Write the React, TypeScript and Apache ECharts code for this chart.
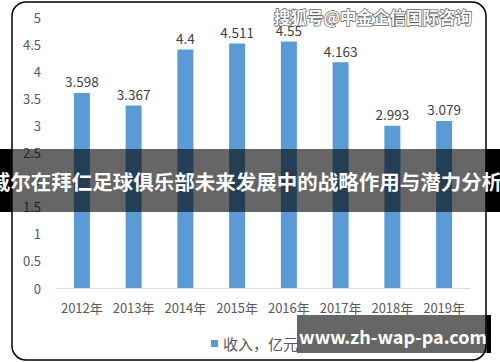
import React, { useEffect, useRef } from "react";
import * as echarts from "echarts";

const categories = ["2012年", "2013年", "2014年", "2015年", "2016年", "2017年", "2018年", "2019年"];
const revenue = [3.598, 3.367, 4.4, 4.511, 4.55, 4.163, 2.993, 3.079];
const seriesName = "收入，亿元";
const bannerTitle = "戚尔在拜仁足球俱乐部未来发展中的战略作用与潜力分析";
const topMark = "搜狐号@中金企信国际咨询";
const siteMark = "www.zh-wap-pa.com";

const FONT = '"Noto Sans CJK SC", "Noto Sans", sans-serif';

export default function App() {
  const ref = useRef<HTMLDivElement>(null);
  useEffect(() => {
    if (!ref.current) return;
    const chart = echarts.init(ref.current, undefined, { renderer: "svg" });
    chart.setOption({
      animation: false,
      backgroundColor: "#ffffff",
      textStyle: { fontFamily: FONT },
      grid: { left: 56, right: 30, top: 17, bottom: 74 },
      legend: {
        left: 206,
        top: 331,
        icon: "rect",
        itemWidth: 7,
        itemHeight: 7,
        itemGap: 6,
        textStyle: { fontSize: 15, color: "#595959", fontFamily: FONT },
        data: [seriesName],
      },
      xAxis: {
        type: "category",
        data: categories,
        axisLine: { lineStyle: { color: "#d9d9d9", width: 1 } },
        axisTick: { show: false },
        axisLabel: { color: "#595959", fontSize: 13, margin: 13, interval: 0, fontFamily: FONT },
      },
      yAxis: {
        type: "value",
        min: 0,
        max: 5,
        interval: 0.5,
        axisLine: { show: false },
        axisTick: { show: false },
        splitLine: { show: false },
        axisLabel: { color: "#595959", fontSize: 13, margin: 15, fontFamily: FONT },
      },
      series: [
        {
          name: seriesName,
          type: "bar",
          data: revenue,
          barWidth: 16,
          itemStyle: { color: "#5b9bd5" },
          label: {
            show: true,
            position: "top",
            distance: 5,
            color: "#404040",
            fontSize: 13.5,
            fontFamily: FONT,
          },
        },
      ],
      graphic: [
        {
          type: "rect",
          z: 90,
          shape: { x: 12, y: 2, width: 474, height: 358, r: 14 },
          style: { fill: "none", stroke: "#000", lineWidth: 1.5 },
        },
        {
          type: "text",
          z: 90,
          style: {
            text: topMark,
            x: 373,
            y: 17,
            textAlign: "center",
            textVerticalAlign: "middle",
            font: `bold 16.5px ${FONT}`,
            fill: "#ffffff",
            stroke: "#666666",
            lineWidth: 1.5,
          },
        },
        {
          type: "rect",
          z: 100,
          shape: { x: 0, y: 149, width: 500, height: 63 },
          style: { fill: "rgba(0,0,0,0.6)" },
        },
        {
          type: "rect",
          z: 101,
          shape: { x: 0, y: 149, width: 12, height: 63 },
          style: { fill: "#000" },
        },
        {
          type: "rect",
          z: 101,
          shape: { x: 486, y: 149, width: 14, height: 63 },
          style: { fill: "#000" },
        },
        {
          type: "text",
          z: 102,
          style: {
            text: bannerTitle,
            x: 246,
            y: 181,
            textAlign: "center",
            textVerticalAlign: "middle",
            font: `bold 20.5px ${FONT}`,
            fill: "#ffffff",
          },
        },
        {
          type: "rect",
          z: 100,
          shape: { x: 297, y: 315, width: 190, height: 38 },
          style: { fill: "rgba(0,0,0,0.6)" },
        },
        {
          type: "rect",
          z: 101,
          shape: { x: 487, y: 315, width: 4, height: 38 },
          style: { fill: "#000" },
        },
        {
          type: "text",
          z: 102,
          style: {
            text: siteMark,
            x: 393,
            y: 336,
            textAlign: "center",
            textVerticalAlign: "middle",
            font: `bold 18px ${FONT}`,
            fill: "#ffffff",
          },
        },
      ],
    });
    return () => chart.dispose();
  }, []);
  return (
    <div
      ref={ref}
      style={{ position: "fixed", left: 0, top: 0, width: 500, height: 362 }}
    />
  );
}
